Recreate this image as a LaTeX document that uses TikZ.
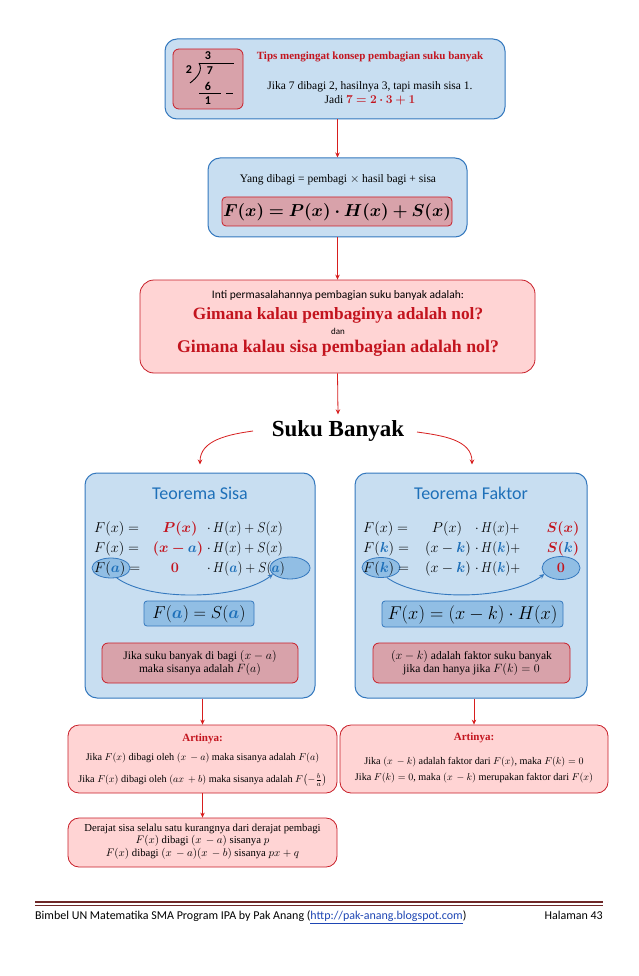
\documentclass[tikz,border=0pt]{standalone}
\usepackage{amsmath}
\usepackage{bm}
\usepackage{graphicx}
\usepackage[no-math]{fontspec}
\setmainfont{Liberation Serif}
\newfontfamily\calfont{Carlito}
\usetikzlibrary{shapes.geometric,arrows.meta}
\definecolor{bfill}{RGB}{200,222,241}
\definecolor{bline}{RGB}{52,120,190}
\definecolor{pfill}{RGB}{255,212,212}
\definecolor{rline}{RGB}{200,30,40}
\definecolor{rfill}{RGB}{216,162,170}
\definecolor{efill}{RGB}{145,190,228}
\definecolor{mblue}{RGB}{30,112,185}
\definecolor{mred}{RGB}{195,20,30}
\definecolor{arr}{RGB}{215,30,30}
\definecolor{footred}{RGB}{110,40,40}
\definecolor{linkblue}{RGB}{30,70,180}
\newcommand\myA{{\color{mblue}\bm{a}}}
\newcommand\myK{{\color{mblue}\bm{k}}}
\newcommand\sq[1]{\scalebox{0.9}[1]{#1}}
\tikzset{
  bluebox/.style={draw=bline, fill=bfill, rounded corners=12pt, line width=1pt, inner sep=0pt},
  pinkbox/.style={draw=rline, fill=pfill, rounded corners=11pt, line width=0.8pt, inner sep=0pt},
  rosebox/.style={draw=rline, fill=rfill, rounded corners=6pt, line width=0.8pt, inner sep=0pt},
  eqbox/.style={draw=bline, fill=efill, rounded corners=3pt, line width=0.8pt, inner sep=0pt},
  oval/.style={ellipse, draw=bline, fill=efill, line width=0.8pt, inner sep=0pt},
  flow/.style={draw=arr, line width=0.8pt, -{Stealth[length=5pt,width=4.5pt]}},
  bflow/.style={draw=bline, line width=0.9pt, -{Stealth[length=5pt,width=4.5pt]}},
  txt/.style={font=\fontsize{10.2}{12}\selectfont, inner sep=0pt},
  eq/.style={font=\fontsize{14}{16}\selectfont, inner sep=0pt, anchor=base west},
  eqc/.style={font=\fontsize{14}{16}\selectfont, inner sep=0pt, anchor=base},
  digit/.style={font=\calfont\bfseries\fontsize{12}{14}\selectfont, inner sep=0pt},
  artin/.style={font=\bfseries\fontsize{11}{13}\selectfont, text=mred, inner sep=0pt},
}
\begin{document}
\begin{tikzpicture}[x=1pt,y=-1pt]
\useasboundingbox (0,0) rectangle (638,976);
\fill[white] (0,0) rectangle (638,976);

% ---------- box 1
\node[bluebox, minimum width=340pt, minimum height=80pt] (b1) at (335,79) {};
\node[rosebox, minimum width=70pt, minimum height=60pt] (div) at (208,79) {};
\node[digit] (q3) at (208,56) {3};
\node[digit] (dv2) at (189,70) {2};
\node[digit] (d7) at (210,71) {7};
\node[digit] (d6) at (208,86) {6};
\node[digit] (r1) at (208,101) {1};
\draw[line width=0.9pt] (199,63) -- (234,63);
\draw[line width=0.9pt] (199,63) .. controls (203,70) and (198,77) .. (190,83);
\draw[line width=0.9pt] (199,93) -- (221,93);
\draw[line width=0.9pt] (226,93) -- (233,93);
\node[font=\bfseries\fontsize{11}{13}\selectfont, text=mred, inner sep=0pt] (tips) at (370,57) {Tips mengingat konsep pembagian suku banyak};
\node[txt, anchor=base, font=\fontsize{11.5}{12}\selectfont] (t1) at (370,89.5) {Jika 7 dibagi 2, hasilnya 3, tapi masih sisa 1.};
\node[txt, anchor=base, font=\fontsize{11.5}{12}\selectfont] (t2) at (370,103.5) {Jadi ${\color{mred}\bm{7=2\cdot 3+1}}$};

% ---------- box 2
\node[bluebox, minimum width=259pt, minimum height=79pt] (b2) at (337.5,197.5) {};
\node[rosebox, rounded corners=4pt, minimum width=230pt, minimum height=29pt] (fb) at (337,211.5) {};
\node[txt, font=\fontsize{11.5}{13}\selectfont] (yd) at (338,180) {Yang dibagi = pembagi $\times$ hasil bagi + sisa};
\node[inner sep=0pt, font=\fontsize{17.28}{20}\selectfont] (fx) at (337,212) {$\bm{F(x)=P(x)\cdot H(x)+S(x)}$};

% ---------- box 3
\node[pinkbox, rounded corners=14pt, minimum width=395pt, minimum height=93pt] (b3) at (337.5,326.5) {};
\node[inner sep=0pt, font=\calfont\fontsize{11.5}{13}\selectfont] (inti) at (338,295) {Inti permasalahannya pembagian suku banyak adalah:};
\node[inner sep=0pt, font=\bfseries\fontsize{17.3}{20}\selectfont, text=mred] (g1) at (338,315) {Gimana kalau pembaginya adalah nol?};
\node[inner sep=0pt, font=\calfont\fontsize{9}{10}\selectfont] (dan) at (338,331) {dan};
\node[inner sep=0pt, font=\bfseries\fontsize{17.8}{20}\selectfont, text=mred] (g2) at (338,348) {Gimana kalau sisa pembagian adalah nol?};

% ---------- Suku Banyak
\node[inner sep=1pt, font=\bfseries\fontsize{23}{26}\selectfont] (sb) at (338,431) {Suku Banyak};

% ---------- left box
\node[bluebox, minimum width=230pt, minimum height=225pt] (lb) at (200,585.5) {};
\node[inner sep=0pt, font=\calfont\fontsize{18}{20}\selectfont, text=mblue] (lt) at (200,493) {Teorema Sisa};
\node[oval, minimum width=38pt, minimum height=20pt] (ea1) at (111,568) {};
\node[oval, minimum width=40pt, minimum height=22pt] (ea2) at (290,568) {};
\node[eq] (l1a) at (94,532) {$F(x)=$};
\node[eqc] (l1b) at (180,532) {${\color{mred}\bm{P(x)}}$};
\node[eq] (l1c) at (207,532) {\sq{$\mathord{\cdot}\,H(x)+S(x)$}};
\node[eq] (l2a) at (94,552) {$F(x)=$};
\node[eqc] (l2b) at (178,552) {${\color{mred}\bm{(x}\mskip\medmuskip\bm{-}\mskip\medmuskip}\myA{\color{mred}\bm{)}}$};
\node[eq] (l2c) at (207,552) {\sq{$\mathord{\cdot}\,H(x)+S(x)$}};
\node[eq] (l3a) at (94,572) {$F(\myA)=$};
\node[eqc] (l3b) at (175,572) {${\color{mred}\bm{0}}$};
\node[eq] (l3c) at (207,572) {\sq{$\mathord{\cdot}\,H(\myA)+S(\myA)$}};
\draw[bflow] (ea1.-60) .. controls (150,602) and (240,600) .. (ea2.200);
\node[eqbox, minimum width=110pt, minimum height=25pt] (lf) at (199,613.5) {};
\node[inner sep=0pt, font=\fontsize{17.28}{20}\selectfont] (lft) at (199,614) {$F(\myA)=S(\myA)$};
\node[rosebox, minimum width=196pt, minimum height=40pt] (lr) at (200,663) {};
\node[txt, align=center, font=\fontsize{11.5}{13}\selectfont] (lrt) at (200,663) {Jika suku banyak di bagi $(x-a)$\\ maka sisanya adalah $F(a)$};

% ---------- right box
\node[bluebox, minimum width=232pt, minimum height=225pt] (rb) at (471,585.5) {};
\node[inner sep=0pt, font=\calfont\fontsize{18}{20}\selectfont, text=mblue] (rt) at (471,493) {Teorema Faktor};
\node[oval, minimum width=38pt, minimum height=20pt] (ek1) at (381,567.5) {};
\node[oval, minimum width=38pt, minimum height=23pt] (ek2) at (561,568) {};
\node[eq] (r1a) at (363,532) {$F(x)=$};
\node[eqc] (r1b) at (447,532) {$P(x)$};
\node[eq] (r1c) at (475,532) {\sq{$\mathord{\cdot}\,H(x)+$}};
\node[eqc] (r1d) at (563,532) {${\color{mred}\bm{S(x)}}$};
\node[eq] (r2a) at (363,552) {$F(\myK)=$};
\node[eqc] (r2b) at (448,552) {$(x-\myK)$};
\node[eq] (r2c) at (475,552) {\sq{$\mathord{\cdot}\,H(\myK)+$}};
\node[eqc] (r2d) at (563,552) {${\color{mred}\bm{S(}}\myK{\color{mred}\bm{)}}$};
\node[eq] (r3a) at (363,572) {$F(\myK)=$};
\node[eqc] (r3b) at (448,572) {$(x-\myK)$};
\node[eq] (r3c) at (475,572) {\sq{$\mathord{\cdot}\,H(\myK)+$}};
\node[eqc] (r3d) at (561,572) {${\color{mred}\bm{0}}$};
\draw[bflow] (ek1.-60) .. controls (420,602) and (510,600) .. (ek2.200);
\node[eqbox, minimum width=181pt, minimum height=26pt] (rf) at (472.5,614) {};
\node[inner sep=0pt, font=\fontsize{17.28}{20}\selectfont] (rft) at (472.5,614.5) {\resizebox{170pt}{!}{$F(x)=(x-k)\cdot H(x)$}};
\node[rosebox, minimum width=197pt, minimum height=40pt] (rr) at (471.5,663) {};
\node[txt, align=center, font=\fontsize{11.5}{13}\selectfont] (rrt) at (471.5,663) {$(x-k)$ adalah faktor suku banyak\\ jika dan hanya jika $F(k)=0$};

% ---------- bottom boxes
\node[pinkbox, minimum width=269pt, minimum height=68pt] (a1) at (202.5,759) {};
\node[artin] (a1h) at (202.5,739) {Artinya:};
\node[txt] (a1l1) at (202.5,758) {Jika $F(x)$ dibagi oleh $(x\,-a)$ maka sisanya adalah $F(a)$};
\node[txt] (a1l2) at (202.5,780) {Jika $F(x)$ dibagi oleh $(ax\,+b)$ maka sisanya adalah $F\bigl(-\tfrac{b}{a}\bigr)$};

\node[pinkbox, minimum width=268pt, minimum height=68pt] (a2) at (474,759) {};
\node[artin] (a2h) at (474,738) {Artinya:};
\node[txt] (a2l1) at (474,762) {Jika $(x\,-k)$ adalah faktor dari $F(x)$, maka $F(k)=0$};
\node[txt] (a2l2) at (474,778) {Jika $F(k)=0$, maka $(x\,-k)$ merupakan faktor dari $F(x)$};

\node[pinkbox, minimum width=269pt, minimum height=49pt] (dj) at (202.5,842.5) {};
\node[txt, align=center, font=\fontsize{10.7}{12.5}\selectfont] (djt) at (202.5,841.5) {Derajat sisa selalu satu kurangnya dari derajat pembagi\\ $F(x)$ dibagi $(x\,-a)$ sisanya $p$\\ $F(x)$ dibagi $(x\,-a)(x\,-b)$ sisanya $px+q$};

% ---------- connectors
\draw[flow] (b2.north |- b1.south) -- (b2.north);
\draw[flow] (b3.north |- b2.south) -- (b3.north);
\draw[flow] (b3.south) -- ([yshift=5pt]sb.north);
\coordinate (sbl) at (253,431);
\coordinate (sbr) at (417,432);
\draw[flow] (sbl) to[out=188,in=90] ([yshift=8pt]lb.north);
\draw[flow] (sbr) to[out=-8,in=90] ([xshift=1pt,yshift=8pt]rb.north);
\draw[flow] (a1.north |- lb.south) -- (a1.north);
\draw[flow] (a2.north |- rb.south) -- (a2.north);
\draw[flow] (a1.south) -- (dj.north);

% ---------- footer
\draw[line width=2.2pt, footred] (35,902) -- (603,902);
\draw[line width=0.6pt, footred] (35,905.5) -- (603,905.5);
\node[anchor=base west, inner sep=0pt, font=\calfont\fontsize{12}{14}\selectfont] (ft) at (35,919) {Bimbel UN Matematika SMA Program IPA by Pak Anang (\textcolor{linkblue}{\underline{http://pak-anang.blogspot.com}})};
\node[anchor=base east, inner sep=0pt, font=\calfont\fontsize{12}{14}\selectfont] (pg) at (603,919) {Halaman 43};
\end{tikzpicture}
\end{document}
